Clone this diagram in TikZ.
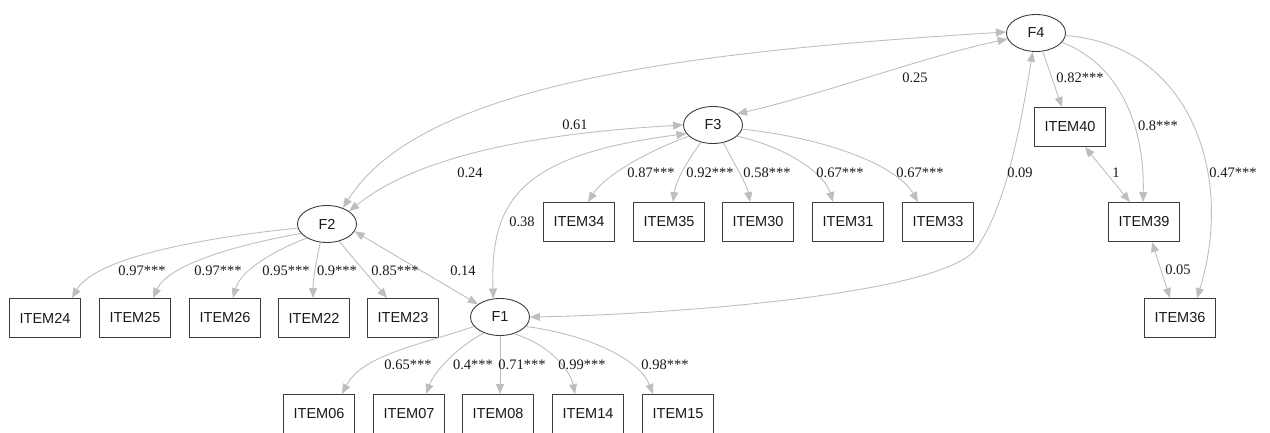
\documentclass[tikz,border=0pt]{standalone}
\usepackage{fontspec}
\setmainfont{Liberation Serif}
\newfontfamily\nodefont{Liberation Sans}
\usetikzlibrary{arrows.meta,shapes.geometric}
\definecolor{edgegray}{RGB}{190,190,190}
\definecolor{bordergray}{RGB}{60,60,60}
\definecolor{txt}{RGB}{25,25,25}
\begin{document}
\begin{tikzpicture}[x=1pt,y=-1pt,
  lat/.style={draw=bordergray, line width=0.9pt, ellipse, minimum width=59pt, minimum height=37pt, inner sep=0pt, font=\nodefont\fontsize{14.5}{16}\selectfont, text=txt},
  obs/.style={draw=bordergray, line width=0.9pt, rectangle, minimum width=71pt, minimum height=39pt, inner sep=0pt, font=\nodefont\fontsize{14.5}{16}\selectfont, text=txt},
  lnk/.style={color=edgegray, line width=0.9pt, -{Triangle[length=10pt,width=8pt]}},
  cov/.style={color=edgegray, line width=0.9pt, {Triangle[length=10pt,width=8pt]}-{Triangle[length=10pt,width=8pt]}},
  lbl/.style={font=\fontsize{14.5}{16}\selectfont, text=txt, inner sep=0pt}
]
\useasboundingbox (0,0) rectangle (1270,433);
% latent factors
\node[lat] (F4) at (1036,33) {F4};
\node[lat] (F3) at (713,125) {F3};
\node[lat] (F2) at (327,224) {F2};
\node[lat] (F1) at (500,317) {F1};
% indicators
\node[obs] (ITEM40) at (1070,127) {ITEM40};
\node[obs] (ITEM39) at (1144,222) {ITEM39};
\node[obs] (ITEM36) at (1180,318) {ITEM36};
\node[obs] (ITEM34) at (579,222) {ITEM34};
\node[obs] (ITEM35) at (669,222) {ITEM35};
\node[obs] (ITEM30) at (758,222) {ITEM30};
\node[obs] (ITEM31) at (848,222) {ITEM31};
\node[obs] (ITEM33) at (938,222) {ITEM33};
\node[obs] (ITEM24) at (45,318) {ITEM24};
\node[obs] (ITEM25) at (135,318) {ITEM25};
\node[obs] (ITEM26) at (225,318) {ITEM26};
\node[obs] (ITEM22) at (314,318) {ITEM22};
\node[obs] (ITEM23) at (403,318) {ITEM23};
\node[obs] (ITEM06) at (319,414) {ITEM06};
\node[obs] (ITEM07) at (409,414) {ITEM07};
\node[obs] (ITEM08) at (498,414) {ITEM08};
\node[obs] (ITEM14) at (588,414) {ITEM14};
\node[obs] (ITEM15) at (678,414) {ITEM15};
\coordinate (f14bend) at (975,250);
% F2 loadings
\draw[lnk] (F2.188) .. controls (200,238) and (95,258) .. ([xshift=27pt]ITEM24.north);
\draw[lnk] (F2.200) .. controls (235,245) and (168,265) .. ([xshift=18pt]ITEM25.north);
\draw[lnk] (F2.215) .. controls (270,252) and (240,272) .. ([xshift=8pt]ITEM26.north);
\draw[lnk] (F2.250) .. controls (316,262) and (313,280) .. ([xshift=-1pt]ITEM22.north);
\draw[lnk] (F2.305) -- ([xshift=-16pt]ITEM23.north);
% F3 loadings
\draw[lnk] (F3.205) .. controls (650,150) and (605,175) .. ([xshift=9pt]ITEM34.north);
\draw[lnk] (F3.235) .. controls (688,160) and (676,180) .. ([xshift=4pt]ITEM35.north);
\draw[lnk] (F3.300) .. controls (735,165) and (747,185) .. ([xshift=-8pt]ITEM30.north);
\draw[lnk] (F3.335) .. controls (790,148) and (825,175) .. ([xshift=-15pt]ITEM31.north);
\draw[lnk] (F3.352) .. controls (840,140) and (900,170) .. ([xshift=-20pt]ITEM33.north);
% F1 loadings
\draw[lnk] (F1.200) .. controls (420,345) and (362,355) .. ([xshift=23pt]ITEM06.north);
\draw[lnk] (F1.225) .. controls (460,345) and (435,370) .. ([xshift=17pt]ITEM07.north);
\draw[lnk] (F1.270) -- ([xshift=2pt]ITEM08.north);
\draw[lnk] (F1.310) .. controls (550,345) and (570,370) .. ([xshift=-13pt]ITEM14.north);
\draw[lnk] (F1.340) .. controls (590,335) and (640,360) .. ([xshift=-25pt]ITEM15.north);
% F4 loadings
\draw[lnk] (F4.290) -- ([xshift=-8pt]ITEM40.north);
\draw[lnk] (F4.340) .. controls (1115,62) and (1145,120) .. ([xshift=-1pt]ITEM39.north);
\draw[lnk] (F4.355) .. controls (1190,45) and (1235,175) .. ([xshift=17pt]ITEM36.north);
% covariances
\draw[cov] (F2.45) .. controls (420,85) and (680,52) .. (F4.178);
\draw[cov] (F2.30) .. controls (425,150) and (560,132) .. (F3.180);
\draw[cov] (F3.25) .. controls (820,95) and (930,55) .. (F4.192);
\draw[cov] (F1.110) .. controls (490,200) and (520,155) .. (F3.198);
\draw[cov] (F2.345) -- (F1.150);
\draw[cov] (F1.east) .. controls (650,315) and (935,297) .. (f14bend) .. controls (1005,210) and (1020,130) .. (F4.260);
\draw[cov] ([xshift=15pt]ITEM40.south) -- ([xshift=-14pt]ITEM39.north);
\draw[cov] ([xshift=8pt]ITEM39.south) -- ([xshift=-10pt]ITEM36.north);
% labels
\node[lbl] (l61) at (575,125) {0.61};
\node[lbl] (l24) at (470,173) {0.24};
\node[lbl] (l25) at (915,78) {0.25};
\node[lbl] (l38) at (522,222) {0.38};
\node[lbl] (l14) at (463,271) {0.14};
\node[lbl] (l09) at (1020,173) {0.09};
\node[lbl] (l1) at (1116,173) {1};
\node[lbl] (l05) at (1178,270) {0.05};
\node[lbl] (l82) at (1080,78) {0.82***};
\node[lbl] (l8) at (1158,126) {0.8***};
\node[lbl] (l47) at (1233,173) {0.47***};
\node[lbl] (a1) at (142,271) {0.97***};
\node[lbl] (a2) at (218,271) {0.97***};
\node[lbl] (a3) at (286,271) {0.95***};
\node[lbl] (a4) at (337,271) {0.9***};
\node[lbl] (a5) at (395,271) {0.85***};
\node[lbl] (b1) at (651,173) {0.87***};
\node[lbl] (b2) at (710,173) {0.92***};
\node[lbl] (b3) at (767,173) {0.58***};
\node[lbl] (b4) at (840,173) {0.67***};
\node[lbl] (b5) at (920,173) {0.67***};
\node[lbl] (c1) at (408,365) {0.65***};
\node[lbl] (c2) at (473,365) {0.4***};
\node[lbl] (c3) at (522,365) {0.71***};
\node[lbl] (c4) at (582,365) {0.99***};
\node[lbl] (c5) at (665,365) {0.98***};
\end{tikzpicture}
\end{document}
